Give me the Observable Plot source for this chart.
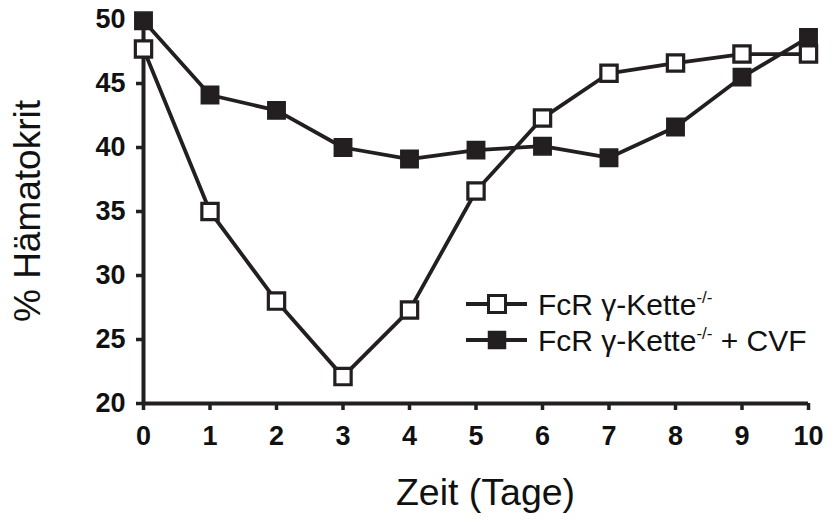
<!DOCTYPE html>
<html><head><meta charset="utf-8">
<script src="https://cdn.jsdelivr.net/npm/d3@7"></script>
<script src="https://cdn.jsdelivr.net/npm/@observablehq/plot@0.6"></script>
<style>
html,body{margin:0;padding:0;background:#fff;}
#wrap{position:relative;width:834px;height:522px;font-family:"Liberation Sans",Arial,sans-serif;}
#wrap svg{display:block;overflow:visible;}
#wrap g[aria-label="x-axis tick label"] text, #wrap g[aria-label="y-axis tick label"] text{font-weight:bold;font-size:27px;fill:#111;}
#legend{position:absolute;left:0;top:0;pointer-events:none;}
</style></head><body><div id="wrap"></div>
<script>
const days = [0,1,2,3,4,5,6,7,8,9,10];
const yTicks = [20,25,30,35,40,45,50];
const koValues = [47.7,35.0,28.0,22.1,27.3,36.6,42.3,45.8,46.6,47.3,47.3];
const cvfValues = [49.9,44.1,42.9,40.0,39.1,39.8,40.1,39.2,41.6,45.5,48.6];
const seriesKeys = ["ko","cvf"];
const legendMain = ["FcR γ-Kette","FcR γ-Kette"];
const legendSup = ["-/-","-/-"];
const legendTail = [""," + CVF"];
const xTitle = "Zeit (Tage)";
const yTitle = "% Hämatokrit";

const ink = "#231f20";
const koRows = days.map((d,i)=>({day:d, value:koValues[i], series:"ko"}));
const cvfRows = days.map((d,i)=>({day:d, value:cvfValues[i], series:"cvf"}));

const chart = Plot.plot({
  width:834, height:522,
  marginLeft:143, marginRight:26, marginTop:19, marginBottom:119,
  style:{fontFamily:"'Liberation Sans', Arial, sans-serif", background:"#fff", color:ink},
  x:{domain:[0,10]},
  y:{domain:[20,50]},
  marks:[
    Plot.axisX(days, {tickSize:7, tickPadding:15, strokeWidth:3.5, label:null, tickFormat:d=>String(d)}),
    Plot.axisY(yTicks, {tickSize:7, tickPadding:11, strokeWidth:3.5, label:null, tickFormat:d=>String(d)}),
    Plot.ruleY([20], {stroke:ink, strokeWidth:4}),
    Plot.ruleX([0], {stroke:ink, strokeWidth:4}),
    Plot.line(cvfRows, {x:"day", y:"value", stroke:ink, strokeWidth:3.8}),
    Plot.line(koRows, {x:"day", y:"value", stroke:ink, strokeWidth:3.8}),
    Plot.dot(cvfRows, {x:"day", y:"value", symbol:"square", r:9.8, fill:ink, stroke:ink, strokeWidth:1.5}),
    Plot.dot(koRows, {x:"day", y:"value", symbol:"square", r:9.2, fill:"white", stroke:ink, strokeWidth:3.2})
  ]
});
document.getElementById("wrap").appendChild(chart);

const svg = d3.select(chart);
const xs = chart.scale("x"), ys = chart.scale("y");
const midX = (xs.range[0]+xs.range[1])/2;
svg.append("text").attr("x", midX+10).attr("y", 505)
  .attr("text-anchor","middle").attr("font-size",37.5).attr("fill","#111")
  .text(xTitle);
const midY = (ys.range[0]+ys.range[1])/2;
svg.append("text").attr("transform",`translate(40,${midY})rotate(-90)`)
  .attr("text-anchor","middle").attr("font-size",37).attr("fill","#111")
  .text(yTitle);

// legend overlay
const leg = d3.select("#wrap").append("svg").attr("id","legend").attr("width",834).attr("height",522);
const rowsY = [304,340];
seriesKeys.forEach((k,i)=>{
  const g = leg.append("g").attr("transform",`translate(0,${rowsY[i]})`);
  g.append("line").attr("x1",466).attr("x2",527).attr("y1",0).attr("y2",0).attr("stroke",ink).attr("stroke-width",3.8);
  g.append("rect").attr("x",488.5).attr("y",-8.5).attr("width",17).attr("height",17)
    .attr("fill", k==="ko" ? "white" : ink).attr("stroke",ink).attr("stroke-width",k==="ko"?3:1.5);
  const t = g.append("text").attr("x",538).attr("y",10.5).attr("font-size",30).attr("fill","#111");
  t.append("tspan").text(legendMain[i]);
  t.append("tspan").attr("dy",-12).attr("font-size",17).text(legendSup[i]);
  if (legendTail[i]) t.append("tspan").attr("dy",12).text(legendTail[i]);
});
</script></body></html>
